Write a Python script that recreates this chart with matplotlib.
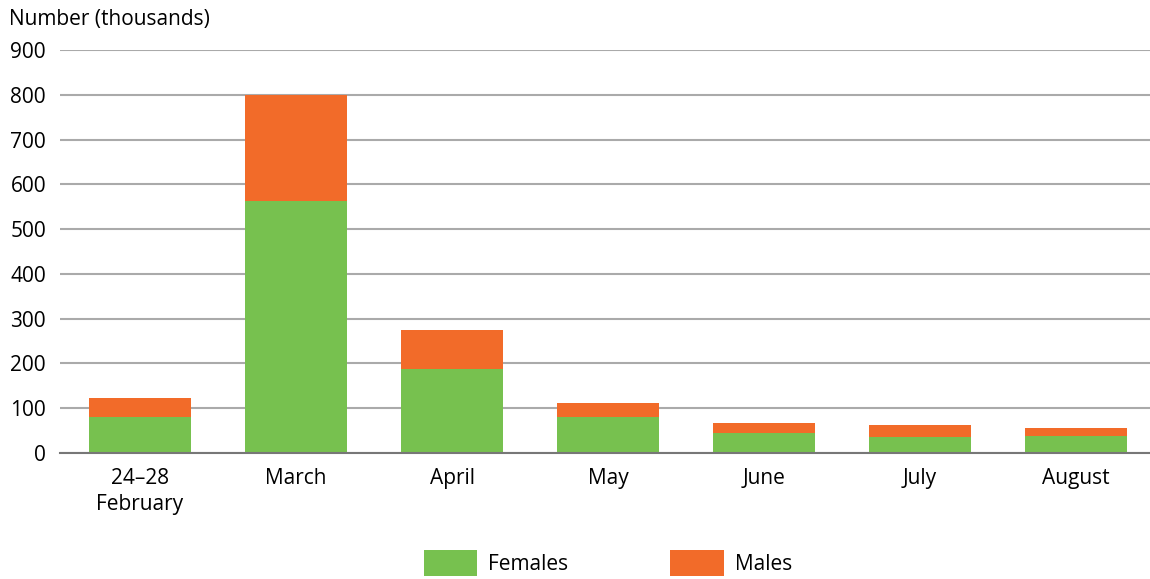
import matplotlib
matplotlib.use("Agg")
import matplotlib.pyplot as plt
from matplotlib.patches import Patch

categories = ["24–28\nFebruary", "March", "April", "May", "June", "July", "August"]
females = [80, 562, 187, 80, 44, 35, 39]
males = [43, 238, 87, 32, 22, 27, 16]
yticks = [0, 100, 200, 300, 400, 500, 600, 700, 800, 900]

plt.rcParams['font.family'] = ['Open Sans', 'DejaVu Sans']
GREEN = "#77C14F"
ORANGE = "#F26B29"
FS = 15

fig = plt.figure(figsize=(11.5, 5.79), dpi=100)
ax = fig.add_axes([60/1150, 1 - 453/579, 1 - 60/1150, (453 - 50)/579])

x = list(range(len(categories)))
ax.bar(x, females, width=0.655, color=GREEN, zorder=3)
ax.bar(x, males, width=0.655, bottom=females, color=ORANGE, zorder=3)

ax.set_xlim(-0.513, 6.474)
ax.set_ylim(0, 900)
ax.set_yticks(yticks)
ax.set_yticklabels([str(v) for v in yticks], fontsize=FS)
ax.set_xticks(x)
ax.set_xticklabels(categories, fontsize=FS, linespacing=1.3)
ax.tick_params(axis='y', length=0, pad=10)
ax.tick_params(axis='x', length=0, pad=11)
ax.grid(axis='y', color="#AAAAAA", linewidth=1.5, zorder=0)
ax.set_axisbelow(True)
for s in ["top", "right", "left"]:
    ax.spines[s].set_visible(False)
ax.spines["bottom"].set_color("#777777")
ax.spines["bottom"].set_linewidth(1.5)
ax.spines["bottom"].set_zorder(4)

fig.text(9/1150, 1 - 20/579, "Number (thousands)", fontsize=FS, ha="left", va="center")

handles = [Patch(facecolor=GREEN, label="Females"), Patch(facecolor=ORANGE, label="Males")]
fig.legend(handles=handles, loc="center", bbox_to_anchor=(608/1150, 1 - 563/579), ncol=2,
           frameon=False, fontsize=FS, handlelength=2.55, handleheight=1.5,
           handletextpad=0.55, columnspacing=4.9, borderpad=0)

fig.savefig("out.png", dpi=100)
